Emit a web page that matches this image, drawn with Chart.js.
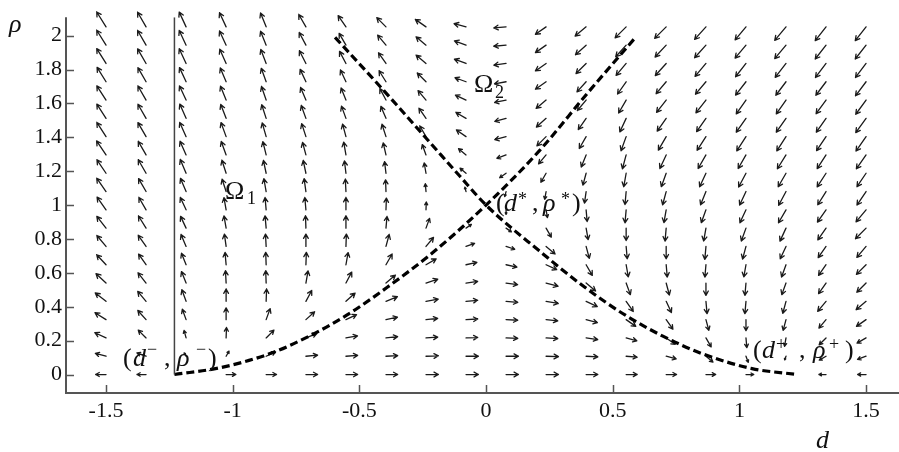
<!DOCTYPE html>
<html><head><meta charset="utf-8">
<script src="https://cdn.jsdelivr.net/npm/chart.js@4"></script>
<style>html,body{margin:0;padding:0;background:#fff}canvas{display:block}</style>
</head><body>
<canvas id="c" width="899" height="452"></canvas>
<script>
// ---- axis ticks ----
const xTicks = [-1.5, -1, -0.5, 0, 0.5, 1, 1.5];
const xTickLabels = ['-1.5', '-1', '-0.5', '0', '0.5', '1', '1.5'];
const yTicks = [0, 0.2, 0.4, 0.6, 0.8, 1, 1.2, 1.4, 1.6, 1.8, 2];
const yTickLabels = ['0', '0.2', '0.4', '0.6', '0.8', '1', '1.2', '1.4', '1.6', '1.8', '2'];

// ---- quiver grid ----
const dGrid = [-1.5,-1.342,-1.184,-1.026,-0.868,-0.711,-0.553,-0.395,-0.237,-0.079,0.079,0.237,0.395,0.553,0.711,0.868,1.026,1.184,1.342,1.5];
const rhoGrid = [0,0.108,0.216,0.324,0.432,0.54,0.648,0.756,0.864,0.972,1.08,1.188,1.296,1.404,1.512,1.62,1.728,1.836,1.944,2.052];

// arrow directions (degrees, 0 = right, 90 = up), one array per rho row
const ang0  = [180,180,0,0,0,0,0,0,0,0,0,0,0,0,0,0,0,0,180,180];
const ang1  = [165,160,120,60,25,5,4,3,2,0,0,-2,-3,-5,-15,-40,-70,-110,-150,-160];
const ang2  = [155,135,105,88,45,22,10,6,4,2,-2,-3,-8,-15,-35,-60,-85,-100,-135,-150];
const ang3  = [148,132,110,90,70,42,25,12,6,3,-3,-6,-15,-35,-55,-75,-90,-105,-130,-145];
const ang4  = [142,130,110,90,88,62,42,22,10,5,-5,-10,-25,-55,-65,-85,-95,-105,-130,-140];
const ang5  = [137,128,112,93,92,80,62,40,18,8,-8,-15,-40,-70,-75,-90,-95,-110,-125,-135];
const ang6  = [133,125,112,95,92,88,80,60,30,12,-12,-25,-60,-80,-85,-95,-100,-110,-125,-135];
const ang7  = [130,125,113,98,93,90,88,75,50,20,-18,-40,-75,-85,-90,-95,-105,-115,-125,-130];
const ang8  = [128,122,115,100,95,92,90,85,70,35,-35,-60,-80,-90,-95,-100,-110,-115,-125,-135];
const ang9  = [125,120,115,100,95,95,90,88,88,45,-90,-80,-85,-95,-100,-110,-115,-120,-125,-130];
const ang10 = [125,120,113,108,100,98,93,92,95,105,255,260,262,265,255,248,245,242,238,236];
const ang11 = [124,120,113,108,102,102,97,97,100,140,215,240,255,260,250,245,242,240,237,236];
const ang12 = [124,120,114,110,104,105,100,103,110,140,200,230,248,255,245,240,240,238,237,235];
const ang13 = [123,120,114,110,106,108,105,108,120,145,195,225,240,250,240,237,237,237,236,235];
const ang14 = [123,120,114,111,108,110,110,113,125,150,195,222,235,245,235,235,235,235,235,234];
const ang15 = [123,120,115,112,109,113,112,118,130,155,192,220,230,240,232,232,235,235,234,234];
const ang16 = [122,120,115,113,110,115,115,122,135,160,190,215,228,235,230,230,232,233,233,233];
const ang17 = [122,120,115,114,111,117,118,125,140,160,188,215,225,230,228,230,232,232,233,233];
const ang18 = [122,120,115,115,112,118,120,130,140,160,185,215,222,228,227,228,230,230,232,232];
const ang19 = [122,120,115,115,112,120,125,135,145,165,185,215,220,225,225,228,230,230,232,232];

// relative arrow magnitudes, one array per rho row
const mag0  = [0.8,0.7,0.1,0.75,0.8,0.9,0.9,0.9,0.95,0.95,0.95,0.95,0.9,0.85,0.8,0.75,0.6,0.1,0.55,0.65];
const mag1  = [0.85,0.75,0.3,0.45,0.8,0.9,0.9,0.9,0.95,0.95,0.95,0.95,0.9,0.85,0.8,0.7,0.5,0.3,0.6,0.7];
const mag2  = [0.95,0.85,0.6,0.8,0.85,0.9,0.9,0.9,0.9,0.9,0.9,0.9,0.9,0.85,0.85,0.8,0.75,0.65,0.75,0.8];
const mag3  = [1.0,0.95,0.85,0.9,0.9,0.9,0.9,0.9,0.9,0.9,0.9,0.9,0.9,0.9,0.9,0.85,0.85,0.85,0.85,0.9];
const mag4  = [1.05,1.0,0.95,0.95,0.95,0.95,0.95,0.95,0.95,0.9,0.9,0.95,0.95,0.95,0.95,0.95,0.95,0.95,1.0,1.0];
const mag5  = [1.05,1.0,0.95,0.95,0.95,0.95,0.95,0.95,0.95,0.9,0.9,0.95,0.95,0.95,0.95,0.95,0.95,0.95,1.0,1.0];
const mag6  = [1.05,1.0,0.95,0.95,0.95,0.95,0.95,0.95,0.9,0.85,0.85,0.9,0.95,0.95,0.95,0.95,0.95,1.0,1.0,1.05];
const mag7  = [1.1,1.05,1.0,0.95,0.95,0.95,0.95,0.95,0.9,0.7,0.7,0.9,0.95,0.95,0.95,1.0,1.0,1.05,1.05,1.1];
const mag8  = [1.15,1.1,1.0,0.95,0.95,0.95,0.95,0.9,0.8,0.5,0.5,0.8,0.9,0.95,1.0,1.0,1.05,1.1,1.1,1.15];
const mag9  = [1.2,1.1,1.05,0.95,0.95,0.95,0.95,0.9,0.6,0.15,0.35,0.6,0.9,1.0,1.0,1.05,1.1,1.15,1.15,1.2];
const mag10 = [1.25,1.15,1.1,1.0,1.0,1.0,0.95,0.9,0.6,0.35,0.4,0.6,0.9,1.0,1.05,1.1,1.15,1.2,1.2,1.25];
const mag11 = [1.25,1.2,1.15,1.05,1.0,1.0,0.95,0.9,0.8,0.6,0.6,0.8,0.95,1.05,1.1,1.15,1.2,1.2,1.25,1.25];
const mag12 = [1.3,1.2,1.15,1.1,1.05,1.0,1.0,0.95,0.85,0.75,0.75,0.9,1.0,1.1,1.15,1.2,1.2,1.25,1.25,1.3];
const mag13 = [1.3,1.25,1.2,1.15,1.1,1.05,1.0,1.0,0.95,0.9,0.9,1.0,1.05,1.15,1.2,1.25,1.3,1.3,1.3,1.35];
const mag14 = [1.3,1.25,1.2,1.15,1.1,1.05,1.0,1.0,0.95,0.9,0.9,1.0,1.05,1.15,1.2,1.25,1.3,1.3,1.3,1.35];
const mag15 = [1.3,1.25,1.2,1.15,1.1,1.05,1.0,1.0,0.95,0.9,0.9,1.0,1.05,1.15,1.2,1.25,1.3,1.3,1.3,1.35];
const mag16 = [1.3,1.25,1.2,1.15,1.1,1.05,1.0,1.0,0.95,0.9,0.9,1.0,1.05,1.15,1.2,1.25,1.3,1.3,1.3,1.35];
const mag17 = [1.35,1.3,1.25,1.2,1.15,1.1,1.05,1.0,1.0,0.95,0.95,1.0,1.1,1.2,1.25,1.3,1.3,1.35,1.35,1.35];
const mag18 = [1.35,1.3,1.25,1.2,1.15,1.1,1.05,1.0,1.0,0.95,0.95,1.0,1.1,1.2,1.25,1.3,1.3,1.35,1.35,1.35];
const mag19 = [1.35,1.3,1.25,1.2,1.15,1.1,1.05,1.0,1.0,0.95,0.95,1.0,1.1,1.2,1.25,1.3,1.3,1.35,1.35,1.35];

// ---- separatrix curves and boundary ----
const risingD   = [-1.23,-1.05,-0.85,-0.70,-0.55,-0.39,-0.21,0,0.21,0.40,0.59];
const risingRho = [0,0.04,0.125,0.225,0.35,0.515,0.72,1.0,1.32,1.66,1.99];
const fallingD   = [-0.596,-0.40,-0.21,-0.103,0,0.21,0.39,0.55,0.70,0.85,1.05,1.23];
const fallingRho = [1.99,1.67,1.35,1.17,1.0,0.73,0.515,0.35,0.225,0.125,0.035,0];
const boundaryD   = [-1.23,-1.23];
const boundaryRho = [0,2.109];

const arrowAngles = [ang0,ang1,ang2,ang3,ang4,ang5,ang6,ang7,ang8,ang9,ang10,ang11,ang12,ang13,ang14,ang15,ang16,ang17,ang18,ang19];
const arrowMags = [mag0,mag1,mag2,mag3,mag4,mag5,mag6,mag7,mag8,mag9,mag10,mag11,mag12,mag13,mag14,mag15,mag16,mag17,mag18,mag19];

const toPts = (xs, ys) => xs.map((v, k) => ({x: v, y: ys[k]}));
const SERIF = '"Liberation Serif", "DejaVu Serif", serif';
const AXIS_COLOR = '#555';

const quiverPlugin = {
  id: 'quiver',
  beforeDatasetsDraw(chart) {
    const {ctx, scales: {x, y}} = chart;
    const base = 13;
    ctx.save();
    ctx.strokeStyle = '#1a1a1a';
    ctx.lineWidth = 1.3;
    ctx.lineCap = 'round';
    ctx.lineJoin = 'round';
    for (let j = 0; j < rhoGrid.length; j++) {
      for (let i = 0; i < dGrid.length; i++) {
        const a = arrowAngles[j][i] * Math.PI / 180;
        const L = arrowMags[j][i] * base;
        if (L < 2) continue;
        const x0 = x.getPixelForValue(dGrid[i]);
        const y0 = y.getPixelForValue(rhoGrid[j]);
        const x1 = x0 + L * Math.cos(a);
        const y1 = y0 - L * Math.sin(a);
        const h = Math.min(5, 0.4 * L);
        ctx.beginPath();
        ctx.moveTo(x0, y0); ctx.lineTo(x1, y1);
        for (const s of [-1, 1]) {
          const b = a + Math.PI + s * 0.5;
          ctx.moveTo(x1, y1);
          ctx.lineTo(x1 + h * Math.cos(b), y1 - h * Math.sin(b));
        }
        ctx.stroke();
      }
    }
    ctx.restore();
  }
};

function drawRuns(ctx, runs) {
  for (const r of runs) {
    ctx.font = r[3];
    ctx.fillText(r[0], r[1], r[2]);
  }
}

const decorPlugin = {
  id: 'decor',
  afterDraw(chart) {
    const {ctx, chartArea: ca, scales: {x, y}} = chart;
    ctx.save();
    // axis lines
    ctx.strokeStyle = AXIS_COLOR;
    ctx.lineWidth = 2;
    ctx.beginPath();
    ctx.moveTo(ca.left, ca.top); ctx.lineTo(ca.left, ca.bottom); ctx.lineTo(ca.right, ca.bottom);
    ctx.stroke();
    ctx.lineWidth = 1.5;
    ctx.beginPath();
    for (const v of xTicks) { const px = Math.round(x.getPixelForValue(v)) + 0.5; ctx.moveTo(px, ca.bottom); ctx.lineTo(px, ca.bottom - 8); }
    for (const v of yTicks) { const py = Math.round(y.getPixelForValue(v)) + 0.5; ctx.moveTo(ca.left, py); ctx.lineTo(ca.left + 8, py); }
    ctx.stroke();

    ctx.fillStyle = '#111';
    ctx.textBaseline = 'alphabetic';
    ctx.textAlign = 'left';
    const N = '26px ' + SERIF, I = 'italic 26px ' + SERIF, S = '18px ' + SERIF, AX = 'italic 26px ' + SERIF;
    // axis titles
    drawRuns(ctx, [['ρ', 9, 32, AX], ['d', 816, 448, AX]]);
    // region labels
    drawRuns(ctx, [['Ω', 225, 199, N], ['1', 247, 204, S]]);
    drawRuns(ctx, [['Ω', 474, 92, N], ['2', 495, 98, S]]);
    // equilibrium labels
    drawRuns(ctx, [['(', 496, 211, N], ['d', 504, 211, I], ['*', 518, 205, S], [',', 532, 211, N], ['ρ', 543, 211, I], ['*', 561, 205, S], [')', 572, 211, N]]);
    drawRuns(ctx, [['(', 123, 366, N], ['d', 133, 366, I], ['−', 147, 355, S], [',', 164, 366, N], ['ρ', 177, 366, I], ['−', 196, 355, S], [')', 208, 366, N]]);
    drawRuns(ctx, [['(', 753, 358, N], ['d', 762, 358, I], ['+', 776, 350, S], [',', 799, 358, N], ['ρ', 813, 358, I], ['+', 829, 350, S], [')', 845, 358, N]]);
    ctx.restore();
  }
};

new Chart(document.getElementById('c'), {
  type: 'scatter',
  data: {
    datasets: [
      {data: toPts(boundaryD, boundaryRho), showLine: true, borderColor: '#444', borderWidth: 1.5, pointRadius: 0},
      {data: toPts(risingD, risingRho), showLine: true, borderColor: '#000', borderWidth: 3.2, borderDash: [8, 4], pointRadius: 0, cubicInterpolationMode: 'monotone'},
      {data: toPts(fallingD, fallingRho), showLine: true, borderColor: '#000', borderWidth: 3.2, borderDash: [8, 4], pointRadius: 0, cubicInterpolationMode: 'monotone'}
    ]
  },
  options: {
    responsive: false,
    animation: false,
    devicePixelRatio: 1,
    layout: {padding: {top: 7, right: 0, left: 0, bottom: 0}},
    plugins: {legend: {display: false}, tooltip: {enabled: false}},
    events: [],
    scales: {
      x: {
        type: 'linear', min: -1.658, max: 1.630,
        afterBuildTicks: s => { s.ticks = xTicks.map(v => ({value: v})); },
        afterFit: s => { s.height = 59; },
        grid: {display: false, drawTicks: false},
        border: {display: false},
        ticks: {autoSkip: false, maxRotation: 0, padding: 5, color: '#111', font: {family: SERIF, size: 22},
          callback: v => xTickLabels[xTicks.indexOf(v)]}
      },
      y: {
        type: 'linear', min: -0.109, max: 2.109,
        afterBuildTicks: s => { s.ticks = yTicks.map(v => ({value: v})); },
        afterFit: s => { s.width = 66; },
        grid: {display: false, drawTicks: false},
        border: {display: false},
        ticks: {autoSkip: false, padding: 4, color: '#111', font: {family: SERIF, size: 22},
          callback: v => yTickLabels[yTicks.indexOf(v)]}
      }
    }
  },
  plugins: [quiverPlugin, decorPlugin]
});
</script>
</body></html>
